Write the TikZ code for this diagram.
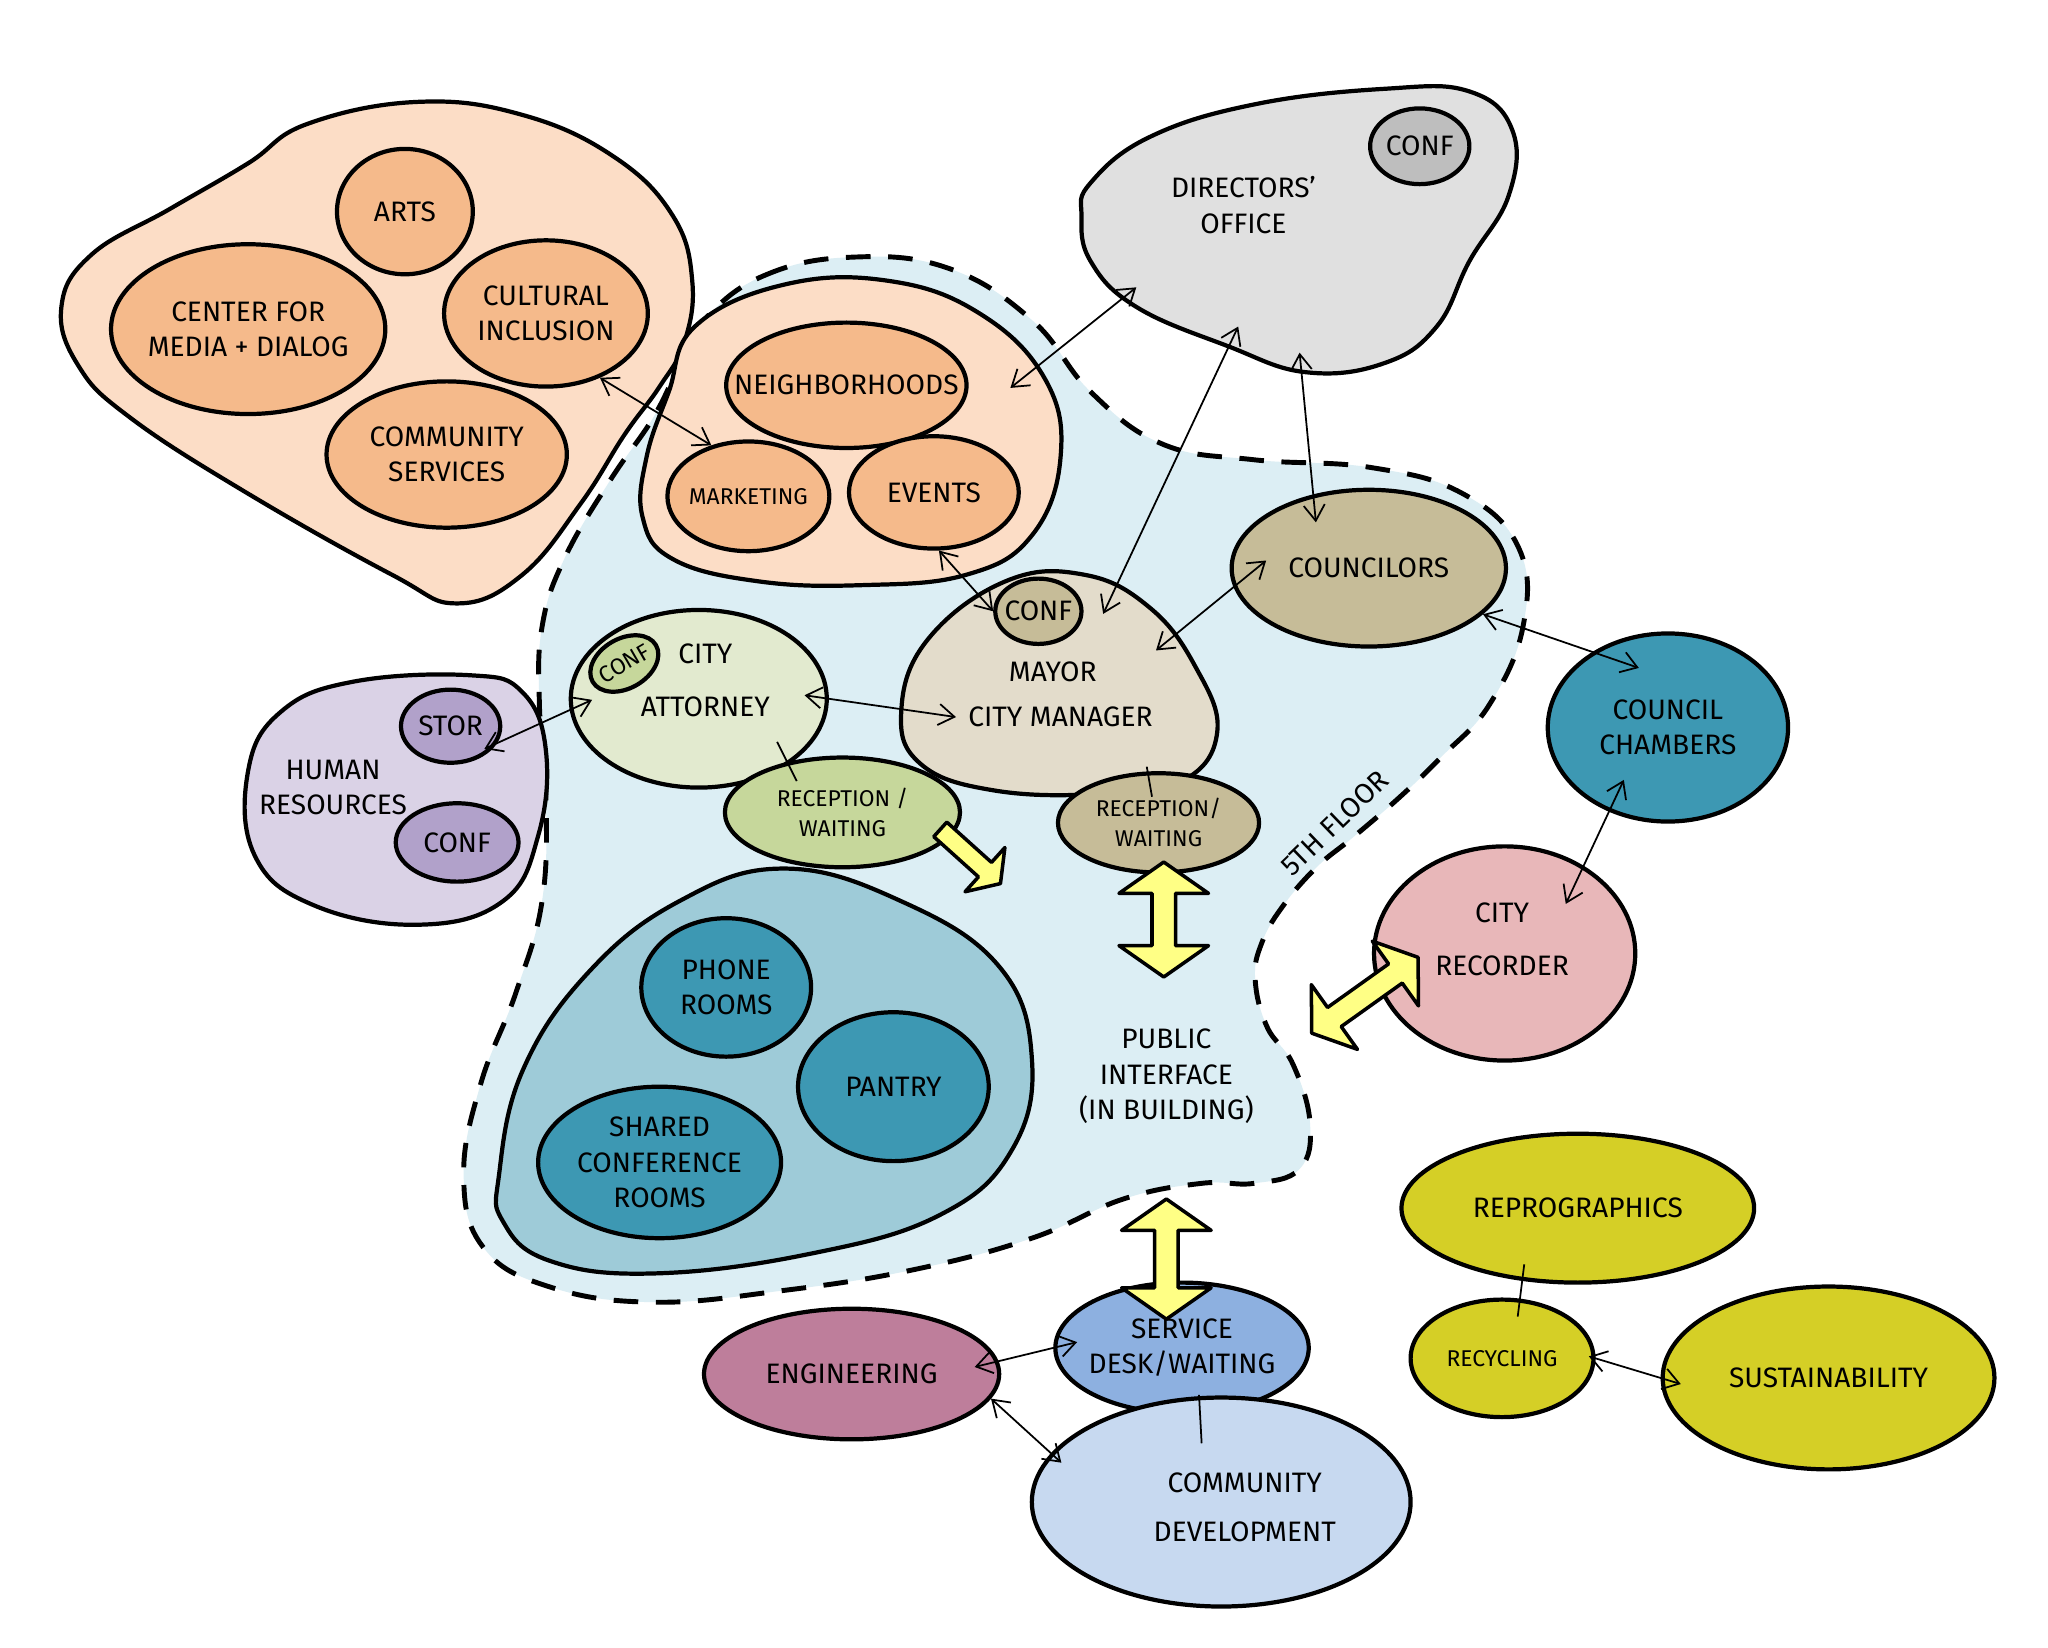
\documentclass[tikz,border=0pt]{standalone}
\usepackage{fontspec}
\setmainfont{Fira Sans}
\usetikzlibrary{shapes.geometric,shapes.arrows,arrows.meta}
\def\pxu{0.013061cm}
\definecolor{peach}{HTML}{FCDDC6}
\definecolor{orng}{HTML}{F5BA8B}
\definecolor{floorblue}{HTML}{DCEEF4}
\definecolor{greyl}{HTML}{E0E0E0}
\definecolor{greyd}{HTML}{BEBEBE}
\definecolor{tand}{HTML}{C6BC98}
\definecolor{tanl}{HTML}{E3DCCB}
\definecolor{greenl}{HTML}{E2EACF}
\definecolor{greenm}{HTML}{C6D79B}
\definecolor{lav}{HTML}{DAD2E6}
\definecolor{purp}{HTML}{B1A1CA}
\definecolor{tealc}{HTML}{9ECBD8}
\definecolor{teal}{HTML}{3D98B3}
\definecolor{pinkr}{HTML}{E8B7B9}
\definecolor{mauve}{HTML}{BE7E9B}
\definecolor{svcblue}{HTML}{8DB0E0}
\definecolor{cdblue}{HTML}{C7D9F0}
\definecolor{olive}{HTML}{D5CF26}
\definecolor{yel}{HTML}{FFFF85}

\begin{document}
\begin{tikzpicture}[x=\pxu, y=-\pxu, line join=round,
		>={Straight Barb[length=4.5pt,width=6pt]},
		txt/.style={font=\fontsize{8}{10}\selectfont, align=center},
		fine/.style={font=\fontsize{6.5}{8.5}\selectfont, align=center},
		room/.style={ellipse, draw, line width=1.2pt, inner sep=0pt},
		sz/.style 2 args={minimum width=2*#1*\pxu, minimum height=2*#2*\pxu},
		blob/.style={draw, line width=1.2pt},
		link/.style={<->, line width=0.5pt},
		tie/.style={line width=0.5pt},
		fat/.style={draw, line width=1pt, fill=yel, inner sep=0.1cm,
			single arrow head extend=0.33cm, double arrow head extend=0.33cm,
			single arrow tip angle=110, double arrow tip angle=110}]
			%%%%% START %%%%%
			
			\path[use as bounding box, fill=white] (0,0) rectangle (1568,1261);
			
			\draw[fill=floorblue, line width=1.4pt, dash pattern=on 7pt off 5pt] plot[smooth cycle, tension=0.7] coordinates {
				(541,243) (585,211) (650,197) (725,205) (790,245) (835,300) (890,340) (960,352)
				(1050,358) (1120,378) (1163,420) (1166,480) (1140,540) (1103,580) (1072,610) (1036,641)
				(1008,664) (982,694) (966,722) (961,750) (970,786) (990,815) (1003,860) (995,895)
				(960,906) (920,906) (860,918) (790,948) (700,972) (600,988) (500,997) (420,985)
				(370,955) (355,900) (368,830) (395,760) (415,690) (418,610) (413,540) (415,480)
				(432,428) (467,368) (500,320) (521,278)};
			\node[txt, rotate=44] (fl) at (1022,630) {5TH FLOOR};
			
			\draw[blob, fill=peach] plot[smooth cycle, tension=0.7] coordinates {
				(235,95) (320,78) (400,88) (470,120) (515,165) (530,215) (524,262) (505,296)
				(478,333) (445,385) (400,440) (350,462) (300,440) (190,378) (100,320) (60,280)
				(47,235) (70,195) (130,160) (190,125)};
			\node[room, sz={52}{48}, fill=orng, label={[txt]center:ARTS}] (ar) at (310,162) {};
			\node[room, sz={105}{65}, fill=orng, label={[txt]center:CENTER FOR\\MEDIA + DIALOG}] (cf) at (190,252) {};
			\node[room, sz={78}{56}, fill=orng, label={[txt]center:CULTURAL\\INCLUSION}] (ci) at (418,240) {};
			\node[room, sz={92}{56}, fill=orng, label={[txt]center:COMMUNITY\\SERVICES}] (cs) at (342,348) {};
			
			\draw[blob, fill=peach] plot[smooth cycle, tension=0.7] coordinates {
				(532,250) (600,218) (680,215) (750,240) (800,290) (812,350) (790,410) (740,440)
				(660,448) (580,445) (515,428) (492,396) (495,350) (512,300)};
			\node[room, sz={92}{48}, fill=orng, label={[txt]center:NEIGHBORHOODS}] (nb) at (648,295) {};
			\node[room, sz={62}{42}, fill=orng, label={[fine]center:MARKETING}] (mk) at (573,380) {};
			\node[room, sz={65}{43}, fill=orng, label={[txt]center:EVENTS}] (ev) at (715,377) {};
			
			\draw[blob, fill=greyl] plot[smooth cycle, tension=0.7] coordinates {
				(835,140) (880,105) (960,80) (1060,68) (1125,70) (1158,100) (1155,150) (1125,200)
				(1100,250) (1060,278) (1000,285) (940,265) (870,235) (835,200) (828,165)};
			\node[txt] (dir) at (952,157) {DIRECTORS'\\OFFICE};
			\node[room, sz={38}{29}, fill=greyd, label={[txt]center:CONF}] (dc) at (1087,112) {};
			
			\node[room, sz={105}{60}, fill=tand, label={[txt]center:COUNCILORS}] (cl) at (1048,435) {};
			
			\draw[blob, fill=tanl] plot[smooth cycle, tension=0.7] coordinates {
				(770,445) (830,440) (880,465) (915,510) (932,560) (905,598) (840,608) (760,605)
				(705,585) (690,545) (710,490)};
			\node[room, sz={33}{25}, fill=tand, label={[txt]center:CONF}] (mc) at (795,468) {};
			\node[txt] (my) at (806,514) {MAYOR};
			\node[txt] (cm) at (812,549) {CITY MANAGER};
			\node[room, sz={77}{38}, fill=tand, label={[fine]center:RECEPTION/\\WAITING}] (rt) at (887,630) {};
			
			\node[room, sz={98}{68}, fill=greenl, label={[txt, shift={(5,-14)}]center:CITY\\[5pt]ATTORNEY}] (ca) at (535,535) {};
			\node[room, sz={28}{19}, rotate=30, fill=greenm, label={[fine, rotate=30]center:CONF}] (ac) at (478,508) {};
			\node[room, sz={90}{42}, fill=greenm, label={[fine]center:RECEPTION /\\WAITING}] (rg) at (645,622) {};
			
			\draw[blob, fill=lav] plot[smooth cycle, tension=0.7] coordinates {
				(190,590) (215,545) (270,522) (360,517) (400,530) (418,575) (412,640) (385,690)
				(320,708) (240,693) (195,655)};
			\node[txt] (hr) at (255,603) {HUMAN\\RESOURCES};
			\node[room, sz={38}{28}, fill=purp, label={[txt]center:STOR}] (st) at (345,556) {};
			\node[room, sz={47}{30}, fill=purp, label={[txt]center:CONF}] (hc) at (350,645) {};
			
			\draw[blob, fill=tealc] plot[smooth cycle, tension=0.7] coordinates {
				(382,900) (400,820) (450,745) (520,690) (600,665) (690,690) (765,740) (790,810)
				(775,880) (720,930) (620,960) (500,975) (420,965) (385,935)};
			\node[room, sz={65}{53}, fill=teal, label={[txt]center:PHONE\\ROOMS}] (pr) at (556,756) {};
			\node[room, sz={73}{57}, fill=teal, label={[txt]center:PANTRY}] (pa) at (684,832) {};
			\node[room, sz={93}{58}, fill=teal, label={[txt]center:SHARED\\CONFERENCE\\ROOMS}] (sc) at (505,890) {};
			
			\node[txt] (pi) at (893,824) {PUBLIC\\INTERFACE\\(IN BUILDING)};
			
			\node[room, sz={92}{72}, fill=teal, label={[txt]center:COUNCIL\\CHAMBERS}] (cc) at (1277,557) {};
			\node[room, sz={100}{82}, fill=pinkr, label={[txt, shift={(-2,-11)}]center:CITY\\[5pt]RECORDER}] (cr) at (1152,730) {};
			
			\node[room, sz={135}{57}, fill=olive, label={[txt]center:REPROGRAPHICS}] (rp) at (1208,925) {};
			\node[room, sz={70}{45}, fill=olive, label={[fine]center:RECYCLING}] (rc) at (1150,1040) {};
			\node[room, sz={127}{70}, fill=olive, label={[txt]center:SUSTAINABILITY}] (su) at (1400,1055) {};
			
			\node[room, sz={97}{50}, fill=svcblue, label={[txt]center:SERVICE\\DESK/WAITING}] (sd) at (905,1032) {};
			\node[room, sz={113}{50}, fill=mauve, label={[txt]center:ENGINEERING}] (en) at (652,1052) {};
			\node[room, sz={145}{80}, fill=cdblue, label={[txt, shift={(18,4)}]center:COMMUNITY\\[4pt]DEVELOPMENT}] (cd) at (935,1150) {};
			
			\node[fat, single arrow, inner sep=0.08cm, single arrow head extend=0.2cm, minimum height=62*\pxu, rotate=-42] (y1) at (741,654) {};
			\node[fat, double arrow, minimum height=88*\pxu, rotate=90] (y2) at (891,704) {};
			\node[fat, double arrow, minimum height=92*\pxu, rotate=90] (y3) at (893,964) {};
			\node[fat, double arrow, double arrow head extend=0.28cm, minimum height=100*\pxu, rotate=35.5] (y4) at (1045,762) {};
			
			\draw[link] (ci.-50) -- (mk.126);
			\draw[link] ([shift={(32,2)}]nb.east) -- ([shift={(-82,63)}]dir.center);
			\draw[link] (ev.-85) -- (mc.west);
			\draw[link] ([shift={(-4,93)}]dir.center) -- ([shift={(15,2)}]mc.east);
			\draw[link, shorten >=-8pt] ([shift={(43,113)}]dir.center) -- (cl.127);
			\draw[link, shorten <=-12pt] (cl.188) -- ([shift={(36,-16)}]my.east);
			\draw[link, shorten >=-14pt] (cl.-22) -- (cc.135);
			\draw[link, shorten <=-10pt, shorten >=-12pt] (cc.-125) -- (cr.48);
			\draw[link, shorten <=-7pt] (ca.east) -- (cm.west);
			\draw[link, shorten <=-7pt, shorten >=-4pt] (ca.185) -- (st.-20);
			\draw[tie] ([shift={(60,33)}]ca.center) -- ([shift={(-35,-24)}]rg.center);
			\draw[tie] ([shift={(-9,-43)}]rt.center) -- ([shift={(-5,-20)}]rt.center);
			\draw[tie] ([shift={(-41,43)}]rp.center) -- ([shift={(12,-32)}]rc.center);
			\draw[link, shorten <=-2pt, shorten >=-6pt] (rc.east) -- (su.west);
			\draw[link, shorten <=-7pt, shorten >=-7pt] (sd.west) -- (en.5);
			\draw[link, shorten >=-4pt] (en.-10) -- (cd.164);
			\draw[tie] ([shift={(13,36)}]sd.center) -- ([shift={(-15,-45)}]cd.center);
			
			%%%%% END %%%%%
		\end{tikzpicture}
\end{document}
